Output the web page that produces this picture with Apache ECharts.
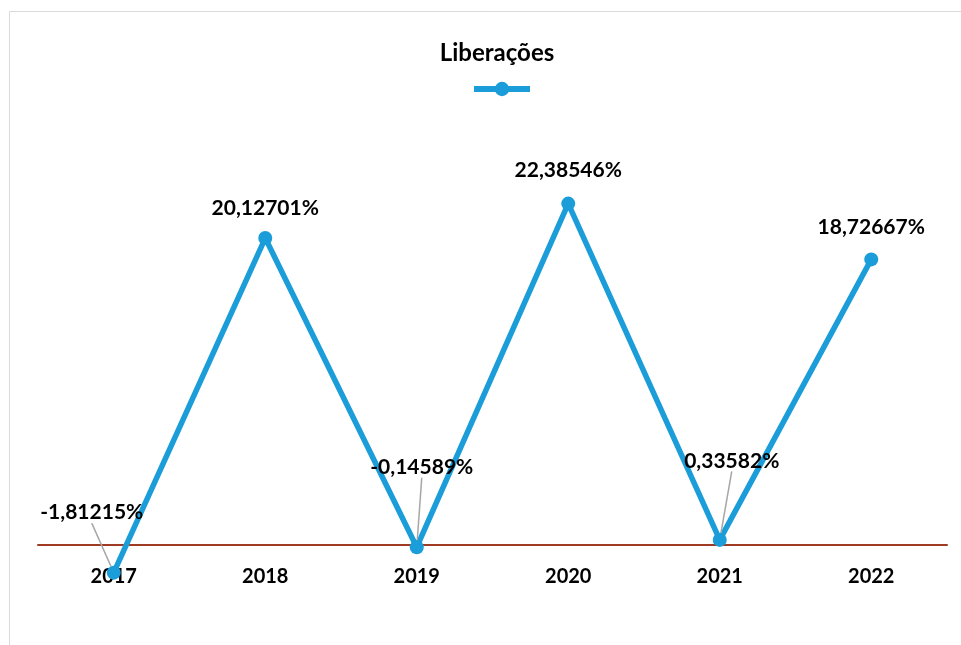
<!DOCTYPE html>
<html><head><meta charset="utf-8">
<script src="https://cdn.jsdelivr.net/npm/echarts@6/dist/echarts.min.js"></script>
<style>html,body{margin:0;padding:0;background:#fff}#c{width:961px;height:645px}</style>
</head><body><div id="c"></div>
<script>
const categories = ['2017','2018','2019','2020','2021','2022'];
const values = [-1.81215, 20.12701, -0.14589, 22.38546, 0.33582, 18.72667];
const labelTexts = ['-1,81215%','20,12701%','-0,14589%','22,38546%','0,33582%','18,72667%'];
const labelShift = [[-22,-60],[0,-30],[5,-80],[0,-33],[12,-79],[0,-32]];
const hasLeader = [true,false,true,false,true,false];
const FONT = 'Lato';
const seriesData = values.map((v,i)=>({value:v,labelLine:{show:hasLeader[i]}}));
const chart = echarts.init(document.getElementById('c'));
chart.setOption({
  backgroundColor:'#fff',
  animation:false,
  graphic:[{type:'rect',shape:{x:9.5,y:11.5,width:1000,height:700},style:{fill:'none',stroke:'#d9d9d9',lineWidth:1},z:-1}],
  title:{text:'Liberações',left:492,top:36,textAlign:'center',textStyle:{fontFamily:FONT,fontWeight:'bold',fontSize:24,color:'#000'}},
  legend:{left:466,top:75,itemWidth:56,itemHeight:18,formatter:()=>'',itemGap:0,
    lineStyle:{width:6},data:['Liberações']},
  grid:{left:38,right:14,top:163.75,height:381.25,outerBoundsMode:'none'},
  xAxis:{type:'category',data:categories,boundaryGap:true,
    axisLine:{onZero:false,lineStyle:{color:'#9e3b22',width:2}},axisTick:{show:false},
    axisLabel:{margin:22,fontFamily:FONT,fontWeight:'bold',fontSize:20,color:'#000'}},
  yAxis:{type:'value',min:0,max:25,show:false,splitLine:{show:false}},
  series:[{name:'Liberações',type:'line',data:seriesData,color:'#1a9dd9',clip:false,
    lineStyle:{width:5.5,color:'#1a9dd9'},symbol:'circle',symbolSize:14,
    itemStyle:{color:'#1a9dd9'},
    label:{show:true,position:'inside',formatter:p=>labelTexts[p.dataIndex],
      fontFamily:FONT,fontWeight:'bold',fontSize:21,color:'#000'},
    labelLine:{show:true,lineStyle:{color:'#a6a6a6',width:1.5}},
    labelLayout:p=>({dx:labelShift[p.dataIndex][0],dy:labelShift[p.dataIndex][1]}),
    z:3}]
});
</script></body></html>
